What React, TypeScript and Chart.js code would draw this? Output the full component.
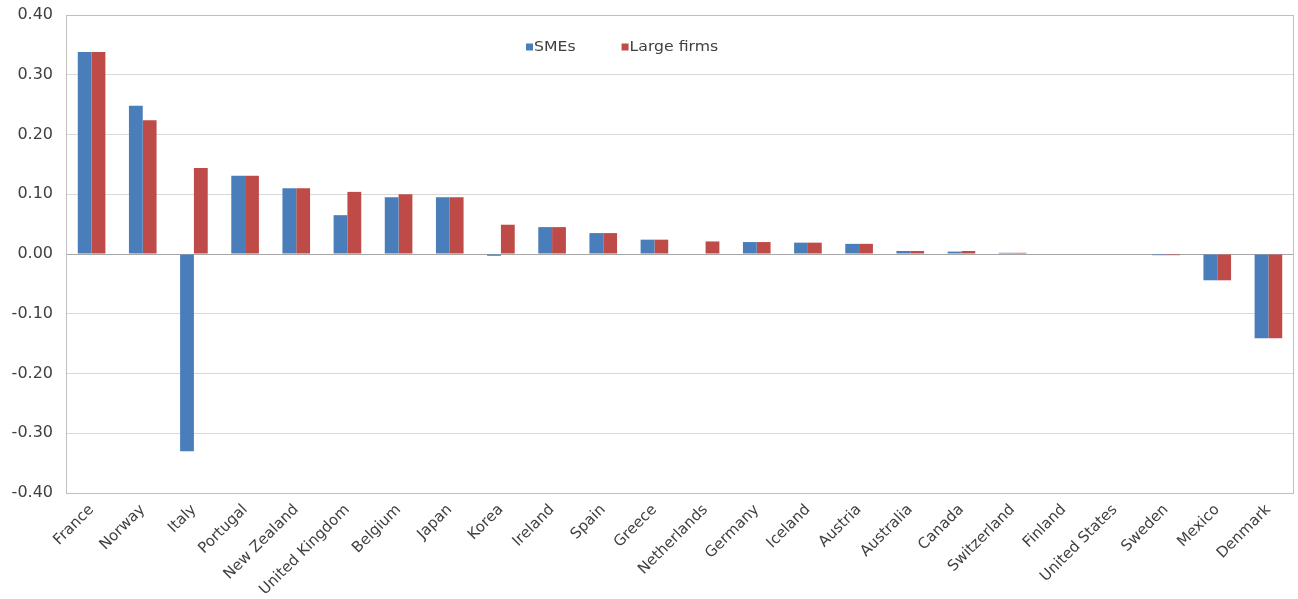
import React, { useEffect, useRef } from "react";
import { Chart, registerables } from "chart.js";

Chart.register(...registerables);

const countries = [
  "France", "Norway", "Italy", "Portugal", "New Zealand", "United Kingdom",
  "Belgium", "Japan", "Korea", "Ireland", "Spain", "Greece", "Netherlands",
  "Germany", "Iceland", "Austria", "Australia", "Canada", "Switzerland",
  "Finland", "United States", "Sweden", "Mexico", "Denmark",
];
const smes = [
  0.338, 0.248, -0.330, 0.131, 0.110, 0.065, 0.095, 0.095, -0.003, 0.045, 0.035, 0.024, 0.0,
  0.020, 0.019, 0.017, 0.005, 0.004, 0.002, 0.0, 0.0, -0.002, -0.044, -0.141,
];
const largeFirms = [
  0.338, 0.224, 0.144, 0.131, 0.110, 0.104, 0.100, 0.095, 0.049, 0.045, 0.035, 0.024, 0.021,
  0.020, 0.019, 0.017, 0.005, 0.005, 0.002, 0.0, 0.0, -0.002, -0.044, -0.141,
];
const yTicks = [0.4, 0.3, 0.2, 0.1, 0.0, -0.1, -0.2, -0.3, -0.4];

const BLUE = "#4a7ebb";
const RED = "#be4b48";
const FONT = "'DejaVu Sans', 'Liberation Sans', Arial, sans-serif";

// Legend sitting inside the plot area, near the top
const insideLegend = {
  id: "insideLegend",
  afterDraw(chart: any) {
    const ctx = chart.ctx;
    ctx.save();
    ctx.font = `14px ${FONT}`;
    ctx.textBaseline = "middle";
    let x = 526;
    const y = 47;
    chart.data.datasets.forEach((ds: any) => {
      ctx.fillStyle = ds.backgroundColor;
      ctx.fillRect(x, y - 3.5, 7, 7);
      ctx.fillStyle = "#404040";
      ctx.save();
      ctx.translate(x + 8, y);
      ctx.scale(1.12, 1);
      ctx.fillText(ds.label, 0, 0);
      ctx.restore();
      x += 8 + ctx.measureText(ds.label).width * 1.12 + 46;
    });
    ctx.restore();
  },
};

// Thin frame around the plot area and a darker zero line
const frame = {
  id: "frame",
  beforeDatasetsDraw(chart: any) {
    const { ctx, chartArea } = chart;
    const y0 = chart.scales.y.getPixelForValue(0);
    ctx.save();
    ctx.strokeStyle = "#a6a6a6";
    ctx.lineWidth = 1;
    ctx.beginPath();
    ctx.moveTo(chartArea.left, Math.round(y0) + 0.5);
    ctx.lineTo(chartArea.right, Math.round(y0) + 0.5);
    ctx.stroke();
    ctx.strokeStyle = "#bfbfbf";
    ctx.strokeRect(
      Math.round(chartArea.left) + 0.5,
      Math.round(chartArea.top) + 0.5,
      Math.round(chartArea.right - chartArea.left) - 1,
      Math.round(chartArea.bottom - chartArea.top)
    );
    ctx.restore();
  },
};

export default function App() {
  const ref = useRef<HTMLCanvasElement | null>(null);

  useEffect(() => {
    if (!ref.current) return;
    const chart = new Chart(ref.current, {
      type: "bar",
      data: {
        labels: countries,
        datasets: [
          { label: "SMEs", data: smes, backgroundColor: BLUE, borderWidth: 0 },
          { label: "Large firms", data: largeFirms, backgroundColor: RED, borderWidth: 0 },
        ],
      },
      options: {
        animation: false,
        responsive: false,
        maintainAspectRatio: false,
        layout: { padding: { top: 15, right: 4, left: 4, bottom: 0 } },
        datasets: { bar: { categoryPercentage: 0.54, barPercentage: 1.0 } },
        plugins: {
          legend: { display: false },
          tooltip: { enabled: false },
        },
        scales: {
          x: {
            grid: { display: false },
            border: { display: false },
            ticks: {
              color: "#404040",
              font: { family: FONT, size: 15 },
              minRotation: 45,
              maxRotation: 45,
              autoSkip: false,
              padding: 0,
            },
            afterFit: (s: any) => {
              s.height = 106;
              s.paddingLeft = 0;
              s.paddingRight = 0;
            },
          },
          y: {
            min: -0.4,
            max: 0.4,
            afterBuildTicks: (s: any) => {
              s.ticks = yTicks.map((v) => ({ value: v }));
            },
            grid: { color: "#d9d9d9", drawTicks: false },
            border: { display: false },
            ticks: {
              color: "#404040",
              font: { family: FONT, size: 16 },
              padding: 13,
              callback: (v: any) => Number(v).toFixed(2),
            },
            afterFit: (s: any) => {
              s.width = 62;
              s.paddingTop = 0;
              s.paddingBottom = 0;
            },
          },
        },
      },
      plugins: [frame, insideLegend],
    });
    return () => chart.destroy();
  }, []);

  return (
    <div style={{ position: "fixed", left: 0, top: 0, width: 1298, height: 599, background: "#fff" }}>
      <canvas ref={ref} width={1298} height={599} />
    </div>
  );
}
